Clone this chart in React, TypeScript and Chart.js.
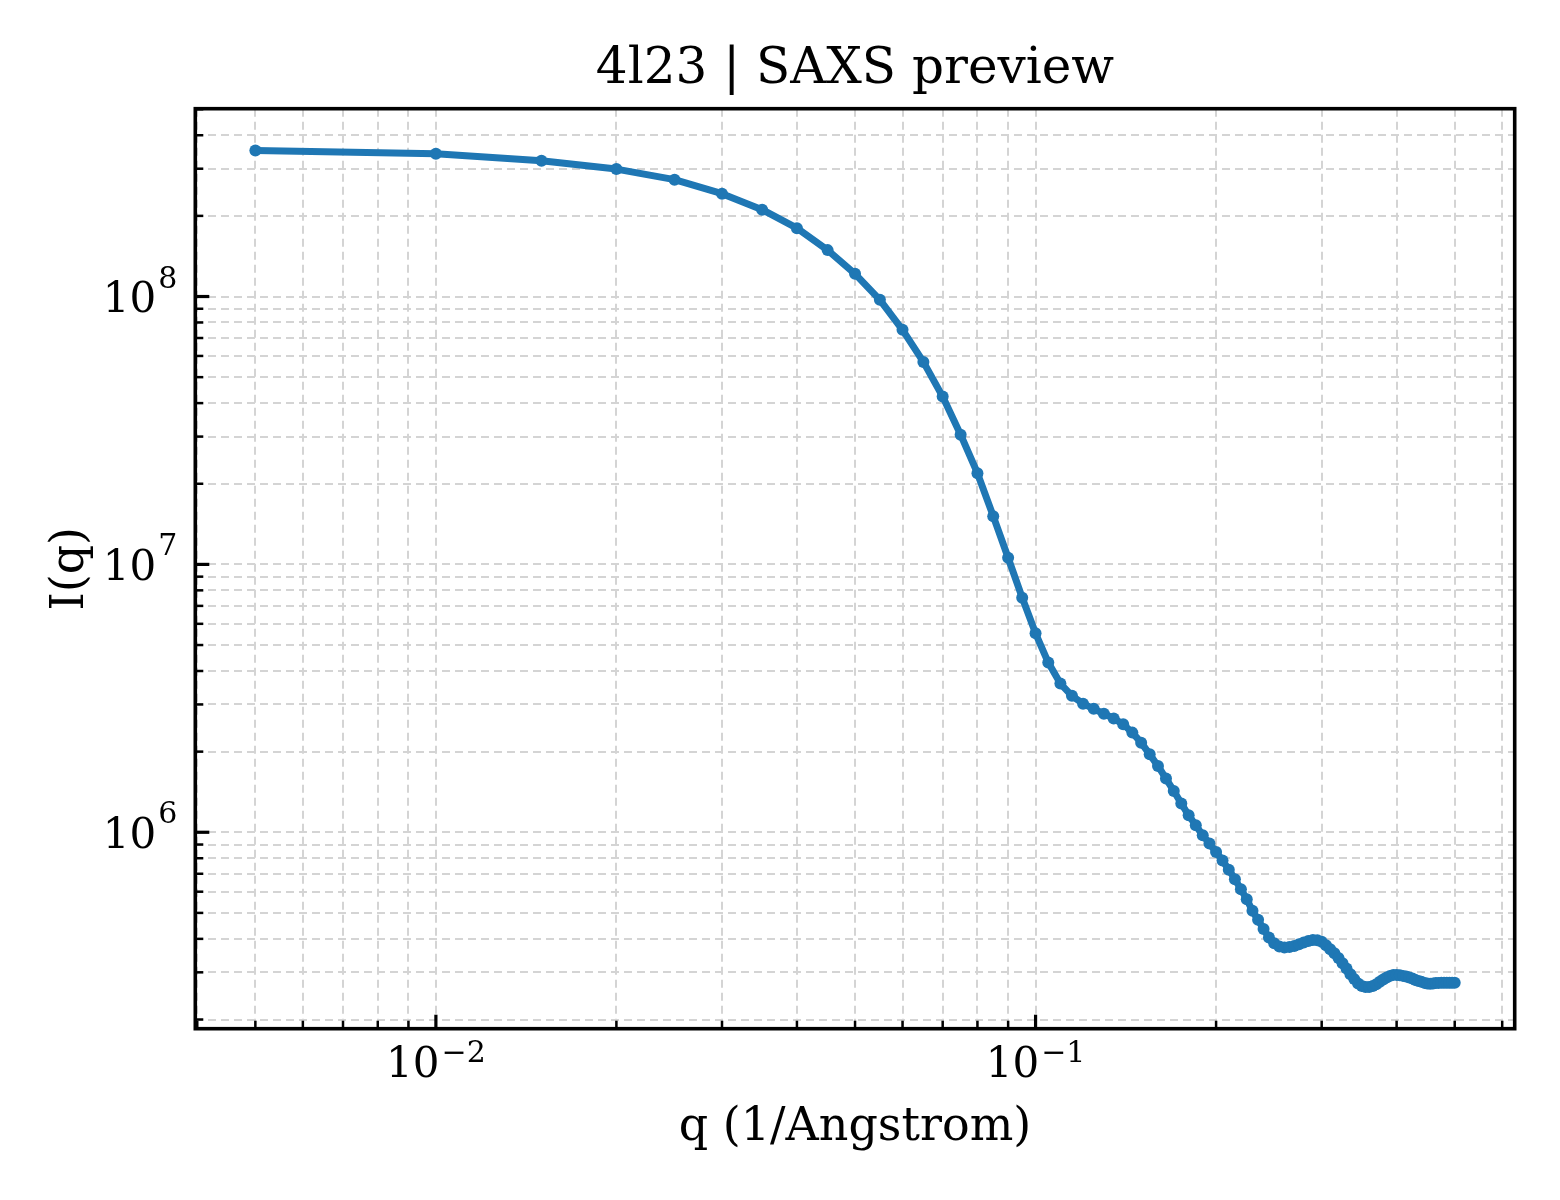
import React, { useEffect, useRef } from "react";
import { Chart, registerables } from "chart.js";

Chart.register(...registerables);

const TITLE = "4l23 | SAXS preview";
const X_LABEL = "q (1/Angstrom)";
const Y_LABEL = "I(q)";

// scattering vector q (1/Angstrom)
const qValues = [
  0.005, 0.01, 0.015, 0.02, 0.025, 0.03, 0.035, 0.04, 0.045, 0.05,
  0.055, 0.06, 0.065, 0.07, 0.075, 0.08, 0.085, 0.09, 0.095, 0.1,
  0.105, 0.11, 0.115, 0.12, 0.125, 0.13, 0.135, 0.14, 0.145, 0.15,
  0.155, 0.16, 0.165, 0.17, 0.175, 0.18, 0.185, 0.19, 0.195, 0.2,
  0.205, 0.21, 0.215, 0.22, 0.225, 0.23, 0.235, 0.24, 0.245, 0.25,
  0.255, 0.26, 0.265, 0.27, 0.275, 0.28, 0.285, 0.29, 0.295, 0.3,
  0.305, 0.31, 0.315, 0.32, 0.325, 0.33, 0.335, 0.34, 0.345, 0.35,
  0.355, 0.36, 0.365, 0.37, 0.375, 0.38, 0.385, 0.39, 0.395, 0.4,
  0.405, 0.41, 0.415, 0.42, 0.425, 0.43, 0.435, 0.44, 0.445, 0.45,
  0.455, 0.46, 0.465, 0.47, 0.475, 0.48, 0.485, 0.49, 0.495, 0.5,
];

// scattered intensity I(q)
const intensity = [
  3.51e8, 3.41e8, 3.21e8, 2.99e8, 2.73e8, 2.42e8, 2.11e8, 1.8e8, 1.49e8, 1.215e8,
  9.72e7, 7.51e7, 5.7e7, 4.23e7, 3.05e7, 2.19e7, 1.514e7, 1.059e7, 7.51e6, 5.53e6,
  4.3e6, 3.59e6, 3.23e6, 3.02e6, 2.89e6, 2.77e6, 2.66e6, 2.53e6, 2.355e6, 2.16e6,
  1.954e6, 1.768e6, 1.586e6, 1.426e6, 1.28e6, 1.157e6, 1.062e6, 9.74e5, 9.08e5, 8.44e5,
  7.84e5, 7.25e5, 6.68e5, 6.13e5, 5.62e5, 5.09e5, 4.71e5, 4.35e5, 4.05e5, 3.855e5,
  3.745e5, 3.71e5, 3.73e5, 3.765e5, 3.82e5, 3.877e5, 3.93e5, 3.963e5, 3.95e5, 3.9e5,
  3.786e5, 3.66e5, 3.536e5, 3.39e5, 3.245e5, 3.1e5, 2.95e5, 2.83e5, 2.725e5, 2.67e5,
  2.647e5, 2.647e5, 2.67e5, 2.71e5, 2.764e5, 2.82e5, 2.87e5, 2.91e5, 2.935e5, 2.935e5,
  2.927e5, 2.91e5, 2.894e5, 2.87e5, 2.845e5, 2.81e5, 2.786e5, 2.764e5, 2.74e5, 2.725e5,
  2.72e5, 2.725e5, 2.735e5, 2.74e5, 2.745e5, 2.745e5, 2.745e5, 2.745e5, 2.745e5, 2.745e5,
];

// axis ticks
const xMajorTicks = [0.01, 0.1];
const xTickExponents = ["\u22122", "\u22121"];
const xMinorTicks = [
  0.004, 0.005, 0.006, 0.007, 0.008, 0.009,
  0.02, 0.03, 0.04, 0.05, 0.06, 0.07, 0.08, 0.09,
  0.2, 0.3, 0.4, 0.5, 0.6,
];
const yMajorTicks = [1e6, 1e7, 1e8];
const yTickExponents = ["6", "7", "8"];
const yMinorTicks = [
  2e5, 3e5, 4e5, 5e5, 6e5, 7e5, 8e5, 9e5,
  2e6, 3e6, 4e6, 5e6, 6e6, 7e6, 8e6, 9e6,
  2e7, 3e7, 4e7, 5e7, 6e7, 7e7, 8e7, 9e7,
  2e8, 3e8, 4e8, 5e8,
];

const X_MIN = 0.00397;
const X_MAX = 0.6295;
const Y_MIN = 1.848e5;
const Y_MAX = 5.025e8;

const LINE_COLOR = "#1f77b4";
const GRID_COLOR = "#d4d4d4";
const SERIF = "'DejaVu Serif', serif";

// frame, inward ticks, tick labels and titles, all placed with the chart's scales
const axesDecor = {
  id: "axesDecor",
  afterDraw(chart: any) {
    const { ctx, chartArea: a } = chart;
    const xs = chart.scales.x;
    const ys = chart.scales.y;
    ctx.save();
    ctx.strokeStyle = "#000";
    ctx.lineCap = "butt";

    const seg = (x1: number, y1: number, x2: number, y2: number, w: number) => {
      ctx.lineWidth = w;
      ctx.beginPath();
      ctx.moveTo(x1, y1);
      ctx.lineTo(x2, y2);
      ctx.stroke();
    };

    xMinorTicks.forEach((v) => {
      const px = xs.getPixelForValue(v);
      seg(px, a.bottom, px, a.bottom - 8, 2.5);
    });
    xMajorTicks.forEach((v) => {
      const px = xs.getPixelForValue(v);
      seg(px, a.bottom, px, a.bottom - 14, 3.2);
    });
    yMinorTicks.forEach((v) => {
      const py = ys.getPixelForValue(v);
      seg(a.left, py, a.left + 8, py, 2.5);
    });
    yMajorTicks.forEach((v) => {
      const py = ys.getPixelForValue(v);
      seg(a.left, py, a.left + 14, py, 3.2);
    });

    ctx.lineWidth = 3.6;
    ctx.strokeRect(a.left, a.top, a.right - a.left, a.bottom - a.top);

    // tick labels: 10 with superscript exponent
    const mainFont = `42px ${SERIF}`;
    const supFont = `30px ${SERIF}`;
    ctx.fillStyle = "#000";
    ctx.textBaseline = "alphabetic";
    ctx.textAlign = "left";

    yMajorTicks.forEach((v, i) => {
      const py = ys.getPixelForValue(v);
      ctx.font = supFont;
      const we = ctx.measureText(yTickExponents[i]).width;
      ctx.font = mainFont;
      const wm = ctx.measureText("10").width;
      const right = a.left - 18;
      ctx.fillText("10", right - we - 2 - wm, py + 15.5);
      ctx.font = supFont;
      ctx.fillText(yTickExponents[i], right - we, py - 9);
    });

    xMajorTicks.forEach((v, i) => {
      const px = xs.getPixelForValue(v);
      ctx.font = supFont;
      const we = ctx.measureText(xTickExponents[i]).width;
      ctx.font = mainFont;
      const wm = ctx.measureText("10").width;
      const left = px - (wm + 2 + we) / 2;
      ctx.fillText("10", left, a.bottom + 48);
      ctx.font = supFont;
      ctx.fillText(xTickExponents[i], left + wm + 2, a.bottom + 33);
    });

    // axis titles and chart title
    const midX = (a.left + a.right) / 2;
    const midY = (a.top + a.bottom) / 2;
    ctx.textAlign = "center";
    ctx.font = `46px ${SERIF}`;
    ctx.fillText(X_LABEL, midX, a.bottom + 111);
    ctx.save();
    ctx.translate(83, midY);
    ctx.rotate(-Math.PI / 2);
    ctx.fillText(Y_LABEL, 0, 0);
    ctx.restore();
    ctx.font = `50px ${SERIF}`;
    ctx.fillText(TITLE, midX, 83);

    ctx.restore();
  },
};

const App: React.FC = () => {
  const canvasRef = useRef<HTMLCanvasElement>(null);

  useEffect(() => {
    if (!canvasRef.current) return;
    const ctx = canvasRef.current.getContext("2d")!;

    const points = qValues.map((q, i) => ({ x: q, y: intensity[i] }));

    const chart = new Chart(ctx, {
      type: "line",
      data: {
        datasets: [
          {
            data: points,
            borderColor: LINE_COLOR,
            backgroundColor: LINE_COLOR,
            borderWidth: 7,
            pointRadius: 6,
            pointBorderWidth: 0,
            pointBackgroundColor: LINE_COLOR,
            borderJoinStyle: "round",
            borderCapStyle: "round",
            tension: 0,
            fill: false,
          },
        ],
      },
      options: {
        responsive: false,
        animation: false,
        devicePixelRatio: 1,
        layout: {
          padding: { left: 0, right: 45.3, top: 108.7, bottom: 0 },
        },
        plugins: {
          legend: { display: false },
          tooltip: { enabled: false },
          title: { display: false },
        },
        scales: {
          x: {
            type: "logarithmic",
            min: X_MIN,
            max: X_MAX,
            afterBuildTicks: (scale: any) => {
              scale.ticks = [...xMinorTicks, ...xMajorTicks]
                .sort((p, q) => p - q)
                .map((value) => ({ value }));
            },
            afterFit: (scale: any) => {
              scale.height = 171.3;
            },
            ticks: { display: false },
            grid: {
              color: GRID_COLOR,
              lineWidth: 2,
              drawTicks: false,
            },
            border: { display: false, dash: [8, 5] },
          },
          y: {
            type: "logarithmic",
            min: Y_MIN,
            max: Y_MAX,
            afterBuildTicks: (scale: any) => {
              scale.ticks = [...yMinorTicks, ...yMajorTicks]
                .sort((p, q) => p - q)
                .map((value) => ({ value }));
            },
            afterFit: (scale: any) => {
              scale.width = 195.3;
            },
            ticks: { display: false },
            grid: {
              color: GRID_COLOR,
              lineWidth: 2,
              drawTicks: false,
            },
            border: { display: false, dash: [8, 5] },
          },
        },
      },
      plugins: [axesDecor],
    });

    return () => {
      chart.destroy();
    };
  }, []);

  return (
    <div
      style={{
        position: "absolute",
        left: 0,
        top: 0,
        width: 1560,
        height: 1200,
        background: "#fff",
      }}
    >
      <canvas ref={canvasRef} width={1560} height={1200}></canvas>
    </div>
  );
};

export default App;
